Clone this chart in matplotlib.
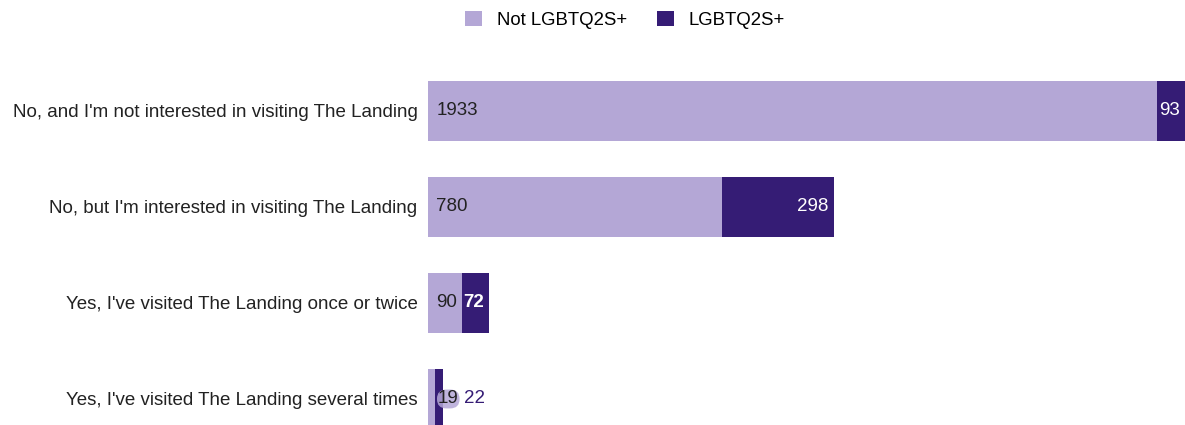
import matplotlib
matplotlib.use("Agg")
import matplotlib.pyplot as plt

plt.rcParams['font.family'] = ['Liberation Sans', 'DejaVu Sans']

categories = [
    "No, and I'm not interested in visiting The Landing",
    "No, but I'm interested in visiting The Landing",
    "Yes, I've visited The Landing once or twice",
    "Yes, I've visited The Landing several times",
]
not_lgbtq = [1933, 780, 90, 19]
lgbtq = [93, 298, 72, 22]
series_names = ["Not LGBTQ2S+", "LGBTQ2S+"]

light = "#b4a7d6"
dark = "#351c75"
text_col = "#222222"

W, H = 1185, 425
fig = plt.figure(figsize=(W / 100, H / 100), dpi=100)
ax = fig.add_axes([428 / W, 0, 757 / W, 362 / H])

xmax = 2008
y = list(range(len(categories)))
b1 = ax.barh(y, not_lgbtq, height=0.625, color=light, label=series_names[0])
b2 = ax.barh(y, lgbtq, left=not_lgbtq, height=0.625, color=dark, label=series_names[1])

ax.set_xlim(0, xmax)
ax.set_ylim(3.271, -0.5)
ax.set_yticks(y)
ax.set_yticklabels(categories, fontsize=13.5, color=text_col)
ax.tick_params(axis='y', length=0, pad=7.5)
ax.tick_params(axis='x', bottom=False, labelbottom=False)
for s in ax.spines.values():
    s.set_visible(False)

fs = 13.5
for i, (a, b) in enumerate(zip(not_lgbtq, lgbtq)):
    total = a + b
    if a >= 40:
        ax.annotate(str(a), (0, i), xytext=(6, 0), textcoords='offset points',
                    ha='left', va='center', fontsize=fs, color=text_col)
        ax.annotate(str(b), (min(total, xmax), i), xytext=(-4, 0), textcoords='offset points',
                    ha='right', va='center', fontsize=fs, color='white',
                    fontweight='bold' if b < 80 else 'normal', clip_on=False)
    else:
        ax.annotate(str(a), (total, i), xytext=(-4, 0), textcoords='offset points',
                    ha='left', va='center', fontsize=fs, color=text_col,
                    bbox=dict(boxstyle='round,pad=0.05,rounding_size=0.5', fc=light, ec='none', alpha=0.85))
        ax.annotate(str(b), (total, i), xytext=(15, 0), textcoords='offset points',
                    ha='left', va='center', fontsize=fs, color=dark)

fig.legend(handles=[b1, b2], labels=series_names, loc='center', bbox_to_anchor=(625 / W, 1 - 20 / H),
           ncol=2, frameon=False, fontsize=13.4, handlelength=0.9, handleheight=0.9,
           handletextpad=0.8, columnspacing=1.6)

fig.savefig("out.png", dpi=100)
